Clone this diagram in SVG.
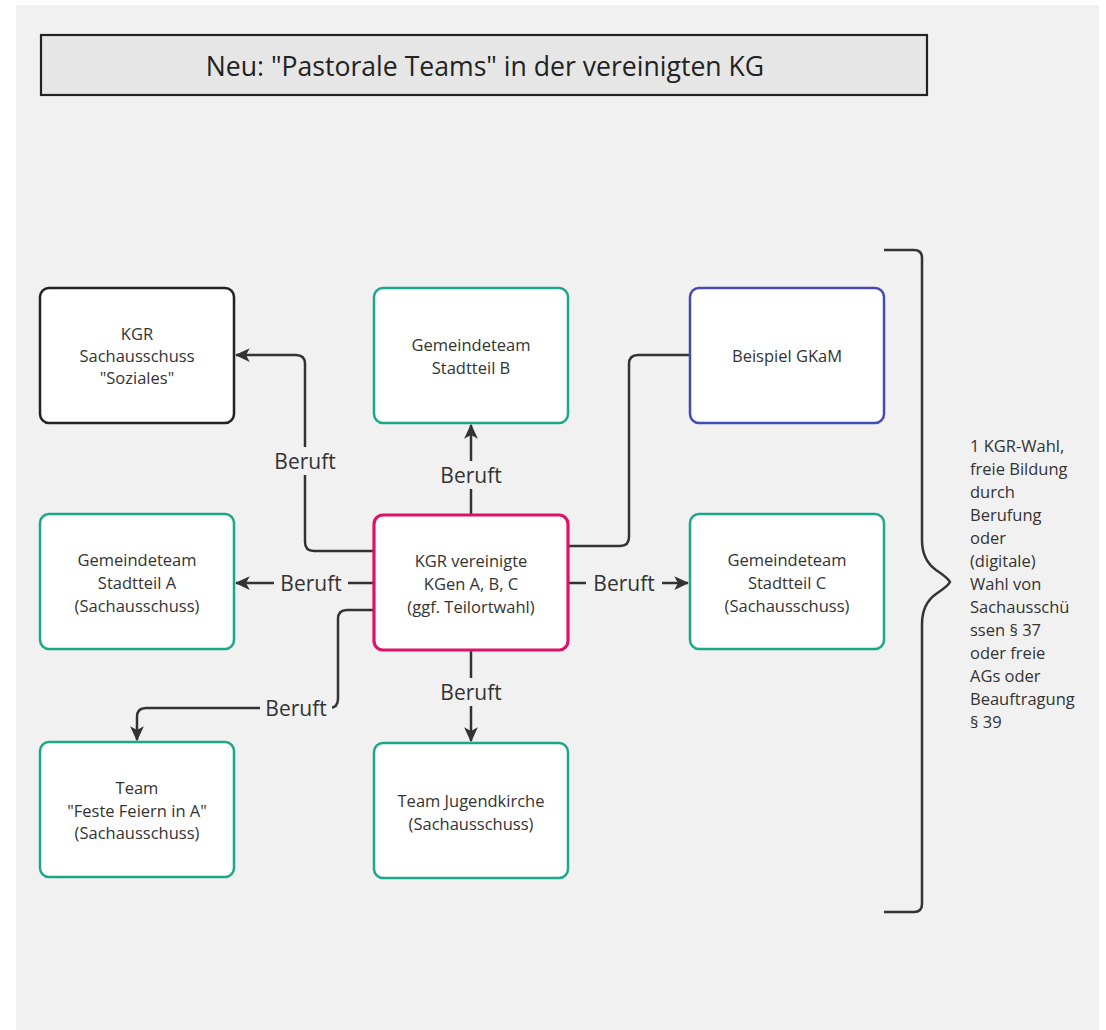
<svg xmlns="http://www.w3.org/2000/svg" width="1106" height="1030" viewBox="0 0 1106 1030">
  <style>
    text { font-family: "Open Sans", "Noto Sans", "DejaVu Sans", sans-serif; fill: #333333; }
    .node rect { fill: #ffffff; stroke-width: 2.5; }
    .node text { font-size: 16.5px; text-anchor: middle; dominant-baseline: central; }
    .teal { stroke: #1aa88a; }
    .black { stroke: #222222; }
    .blue { stroke: #4449b8; }
    .pink { stroke: #de1068; stroke-width: 3.2 !important; }
    .edge { fill: none; stroke: #333333; stroke-width: 2.5; stroke-linejoin: round; }
    .lbl rect { fill: #f1f1f1; }
    .lbl text { font-size: 21px; text-anchor: middle; dominant-baseline: central; }
    .note { font-size: 16.5px; }
  </style>
  <defs>
    <marker id="arr" viewBox="0 0 12 12" refX="11" refY="6" markerWidth="15" markerHeight="15" markerUnits="userSpaceOnUse" orient="auto">
      <path d="M0,0.5 L12,6 L0,11.5 L3,6 Z" fill="#333333"/>
    </marker>
  </defs>

  <!-- canvas -->
  <rect x="0" y="0" width="1106" height="1030" fill="#ffffff"/>
  <rect x="16" y="5" width="1083" height="1025" fill="#f1f1f1"/>

  <!-- title -->
  <g id="title">
    <rect x="41" y="35" width="886" height="60" fill="#e6e6e6" stroke="#222222" stroke-width="2.2"/>
    <text x="485" y="66" font-size="26.6" text-anchor="middle" dominant-baseline="central" style="fill:#222222">Neu: "Pastorale Teams" in der vereinigten KG</text>
  </g>

  <!-- connectors -->
  <g id="connectors">
    <path class="edge" d="M374,551 H314 Q305,551 305,542 V364 Q305,355 296,355 H236" marker-end="url(#arr)"/>
    <path class="edge" d="M471,515 V425" marker-end="url(#arr)"/>
    <path class="edge" d="M374,583 H236" marker-end="url(#arr)"/>
    <path class="edge" d="M568,583 H688" marker-end="url(#arr)"/>
    <path class="edge" d="M568,546 H620 Q629,546 629,537 V364 Q629,355 638,355 H690"/>
    <path class="edge" d="M374,610 H347 Q338,610 338,619 V699 Q338,708 329,708 H146 Q137,708 137,717 V740" marker-end="url(#arr)"/>
    <path class="edge" d="M471,650 V741" marker-end="url(#arr)"/>

    <g class="lbl">
      <rect x="270" y="447" width="70" height="28"/>
      <text x="305" y="461">Beruft</text>
      <rect x="436" y="461" width="70" height="28"/>
      <text x="471" y="475">Beruft</text>
      <rect x="274" y="569" width="74" height="28"/>
      <text x="311" y="583">Beruft</text>
      <rect x="586" y="569" width="76" height="28"/>
      <text x="624" y="583">Beruft</text>
      <rect x="260" y="694" width="72" height="28"/>
      <text x="296" y="708">Beruft</text>
      <rect x="436" y="678" width="70" height="28"/>
      <text x="471" y="692">Beruft</text>
    </g>
  </g>

  <!-- nodes -->
  <g id="soziales" class="node">
    <rect class="black" x="40" y="288" width="194" height="135" rx="9"/>
    <text x="137" y="333">KGR</text>
    <text x="137" y="355">Sachausschuss</text>
    <text x="137" y="377">"Soziales"</text>
  </g>
  <g id="stadtteil-b" class="node">
    <rect class="teal" x="374" y="288" width="194" height="135" rx="9"/>
    <text x="471" y="344">Gemeindeteam</text>
    <text x="471" y="367">Stadtteil B</text>
  </g>
  <g id="gkam" class="node">
    <rect class="blue" x="690" y="288" width="194" height="135" rx="9"/>
    <text x="787" y="355">Beispiel GKaM</text>
  </g>
  <g id="stadtteil-a" class="node">
    <rect class="teal" x="40" y="514" width="194" height="135" rx="9"/>
    <text x="137" y="559">Gemeindeteam</text>
    <text x="137" y="582">Stadtteil A</text>
    <text x="137" y="605">(Sachausschuss)</text>
  </g>
  <g id="kgr" class="node">
    <rect class="pink" x="374" y="515" width="194" height="135" rx="9"/>
    <text x="471" y="560">KGR vereinigte</text>
    <text x="471" y="583">KGen A, B, C</text>
    <text x="471" y="606">(ggf. Teilortwahl)</text>
  </g>
  <g id="stadtteil-c" class="node">
    <rect class="teal" x="690" y="514" width="194" height="135" rx="9"/>
    <text x="787" y="559">Gemeindeteam</text>
    <text x="787" y="582">Stadtteil C</text>
    <text x="787" y="605">(Sachausschuss)</text>
  </g>
  <g id="feste" class="node">
    <rect class="teal" x="40" y="742" width="194" height="135" rx="9"/>
    <text x="137" y="787">Team</text>
    <text x="137" y="810">"Feste Feiern in A"</text>
    <text x="137" y="832">(Sachausschuss)</text>
  </g>
  <g id="jugendkirche" class="node">
    <rect class="teal" x="374" y="743" width="194" height="135" rx="9"/>
    <text x="471" y="800">Team Jugendkirche</text>
    <text x="471" y="823">(Sachausschuss)</text>
  </g>

  <!-- brace with note -->
  <g id="brace">
    <path class="edge" d="M884,250 H914 Q922,250 922,258 V540 Q922,560 936,570 Q948,578 950,582 Q948,586 936,594 Q922,604 922,624 V904 Q922,912 914,912 H884"/>
    <text class="note" x="970" y="445" dominant-baseline="central">1 KGR-Wahl,</text>
    <text class="note" x="970" y="468" dominant-baseline="central">freie Bildung</text>
    <text class="note" x="970" y="491" dominant-baseline="central">durch</text>
    <text class="note" x="970" y="514" dominant-baseline="central">Berufung</text>
    <text class="note" x="970" y="537" dominant-baseline="central">oder</text>
    <text class="note" x="970" y="560" dominant-baseline="central">(digitale)</text>
    <text class="note" x="970" y="583" dominant-baseline="central">Wahl von</text>
    <text class="note" x="970" y="606" dominant-baseline="central">Sachausschü</text>
    <text class="note" x="970" y="629" dominant-baseline="central">ssen § 37</text>
    <text class="note" x="970" y="652" dominant-baseline="central">oder freie</text>
    <text class="note" x="970" y="675" dominant-baseline="central">AGs oder</text>
    <text class="note" x="970" y="698" dominant-baseline="central">Beauftragung</text>
    <text class="note" x="970" y="721" dominant-baseline="central">§ 39</text>
  </g>
</svg>
